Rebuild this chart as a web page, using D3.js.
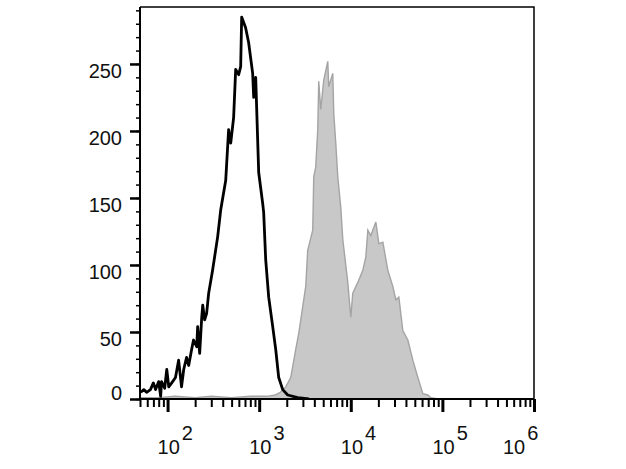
<!DOCTYPE html>
<html>
<head>
<meta charset="utf-8">
<script src="https://cdn.jsdelivr.net/npm/d3@7"></script>
<style>
  html, body { margin: 0; padding: 0; background: #fff; }
  svg { display: block; font-family: "Liberation Sans", Arial, sans-serif; }
  .lbl { font-family: "Liberation Sans", Arial, sans-serif; font-size: 20px; fill: #111; }
</style>
</head>
<body>
<svg id="chart" width="626" height="469"></svg>
<script>
// ---- data ----
const controlIntensity = [51, 55, 59, 65, 70, 74, 80, 84, 86, 93, 98, 103, 111, 122, 132, 142, 150, 161, 170, 183, 192, 208, 213, 224, 236, 242, 254, 267, 281, 310, 352, 380, 431, 464, 489, 526, 554, 597, 628, 644, 711, 767, 849, 871, 916, 988, 1092, 1120, 1178, 1270, 1405, 1515, 1634, 1807, 2048, 2634, 3500];
const controlCount     = [5, 7, 5, 7, 12, 7, 13, 2, 13, 8, 22, 9, 12, 16, 29, 9, 22, 31, 25, 37, 44, 39, 54, 34, 61, 70, 59, 64, 79, 96, 121, 141, 163, 201, 191, 210, 246, 242, 248, 285, 277, 266, 243, 225, 240, 169, 146, 139, 104, 76, 54, 37, 16, 7, 3, 1, 0];

const stainedIntensity = [50, 80, 120, 200, 300, 500, 800, 1200, 1500, 1700, 1950, 2210, 2506, 2704, 2987, 3222, 3387, 3843, 3941, 4142, 4357, 4468, 4698, 5067, 5606, 5749, 6357, 6520, 6855, 7207, 7774, 8181, 9272, 10000, 10510, 11930, 13530, 14590, 15350, 16550, 18770, 20240, 22390, 25380, 28780, 31040, 33480, 36990, 41950, 47570, 53950, 61180, 69370, 74820, 90000];
const stainedCount     = [1, 1, 2, 1, 2, 1, 2, 2, 3, 5, 9, 16, 37, 49, 69, 84, 111, 126, 166, 173, 201, 237, 216, 238, 252, 233, 243, 213, 191, 166, 143, 119, 87, 61, 79, 87, 96, 106, 126, 122, 132, 116, 117, 96, 84, 74, 76, 51, 44, 29, 16, 4, 3, 1, 0];

const yTicks = [0, 50, 100, 150, 200, 250];
const xTickExponents = [2, 3, 4, 5, 6];

// ---- layout ----
const svg = d3.select("#chart");
const mLeft = 140, mRight = 534, mTop = 7, mBottom = 399;

const x = d3.scaleLog().domain([50, 1e6]).range([mLeft, mRight]);
const y = d3.scaleLinear().domain([0, 292.5]).range([mBottom, mTop]);

const clipId = "plotclip";
svg.append("defs").append("clipPath").attr("id", clipId)
  .append("rect").attr("x", mLeft).attr("y", mTop).attr("width", mRight - mLeft).attr("height", mBottom - mTop);

const stained = stainedIntensity.map((v, i) => [v, stainedCount[i]]);
const control = controlIntensity.map((v, i) => [v, controlCount[i]]);

const plot = svg.append("g").attr("clip-path", `url(#${clipId})`);

plot.append("path")
  .datum(stained)
  .attr("d", d3.area().x(d => x(d[0])).y0(y(0)).y1(d => y(d[1])))
  .attr("fill", "#c8c8c8")
  .attr("stroke", "none");
plot.append("path")
  .datum(stained)
  .attr("d", d3.line().x(d => x(d[0])).y(d => y(d[1])))
  .attr("fill", "none")
  .attr("stroke", "#a4a4a4")
  .attr("stroke-width", 1.4);

plot.append("path")
  .datum(control)
  .attr("d", d3.line().x(d => x(d[0])).y(d => y(d[1])))
  .attr("fill", "none")
  .attr("stroke", "#000")
  .attr("stroke-width", 2.8)
  .attr("stroke-linejoin", "round");

// frame
svg.append("path")
  .attr("d", `M${mLeft},${mTop}H${mRight}V${mBottom}`)
  .attr("fill", "none").attr("stroke", "#000").attr("stroke-width", 1.5);

// ---- y axis ----
const yAxisMinor = d3.axisLeft(y).tickValues(d3.range(0, 291, 10)).tickSize(4).tickFormat("");
const gyMinor = svg.append("g").attr("transform", `translate(${mLeft},0)`).call(yAxisMinor);
gyMinor.select(".domain").remove();
gyMinor.selectAll("line").attr("stroke-width", 1.5);

const yAxis = d3.axisLeft(y).tickValues(yTicks).tickSize(10).tickFormat("");
const gy = svg.append("g").attr("transform", `translate(${mLeft},0)`).call(yAxis);
gy.select(".domain").attr("stroke-width", 2).attr("d", `M0,${mTop}V${mBottom}`);
gy.selectAll("line").attr("stroke-width", 2.5);

svg.append("g").selectAll("text")
  .data(yTicks)
  .join("text")
  .attr("class", "lbl")
  .attr("text-anchor", "end")
  .attr("x", mLeft - 18)
  .attr("y", d => y(d) + (d === 0 ? 1 : 14))
  .text(d => d);

// ---- x axis ----
const minorVals = [];
for (let e = 1; e <= 5; e++) {
  for (let m = 2; m <= 9; m++) {
    const v = m * Math.pow(10, e);
    if (v >= 50 && v <= 1e6) minorVals.push(v);
  }
}
const xAxisMinor = d3.axisBottom(x).tickValues(minorVals).tickSize(8).tickFormat("");
const gxMinor = svg.append("g").attr("transform", `translate(0,${mBottom})`).call(xAxisMinor);
gxMinor.select(".domain").remove();
gxMinor.selectAll("line").attr("stroke-width", 2);

const majorVals = xTickExponents.map(e => Math.pow(10, e));
const xAxis = d3.axisBottom(x).tickValues(majorVals).tickSize(13).tickFormat("");
const gx = svg.append("g").attr("transform", `translate(0,${mBottom})`).call(xAxis);
gx.select(".domain").attr("stroke-width", 2).attr("d", `M${mLeft},0H${mRight}`);
gx.selectAll("line").attr("stroke-width", 3);

// power-of-ten labels
const labels = svg.append("g");
xTickExponents.forEach((e, i) => {
  const last = i === xTickExponents.length - 1;
  const cx = last ? x(Math.pow(10, e)) - 21 : x(Math.pow(10, e));
  const t = labels.append("text")
    .attr("class", "lbl")
    .attr("x", cx - 10)
    .attr("y", 454);
  t.append("tspan").text("10");
  t.append("tspan").attr("dx", 2).attr("dy", -14).text(String(e));
});
</script>
</body>
</html>
